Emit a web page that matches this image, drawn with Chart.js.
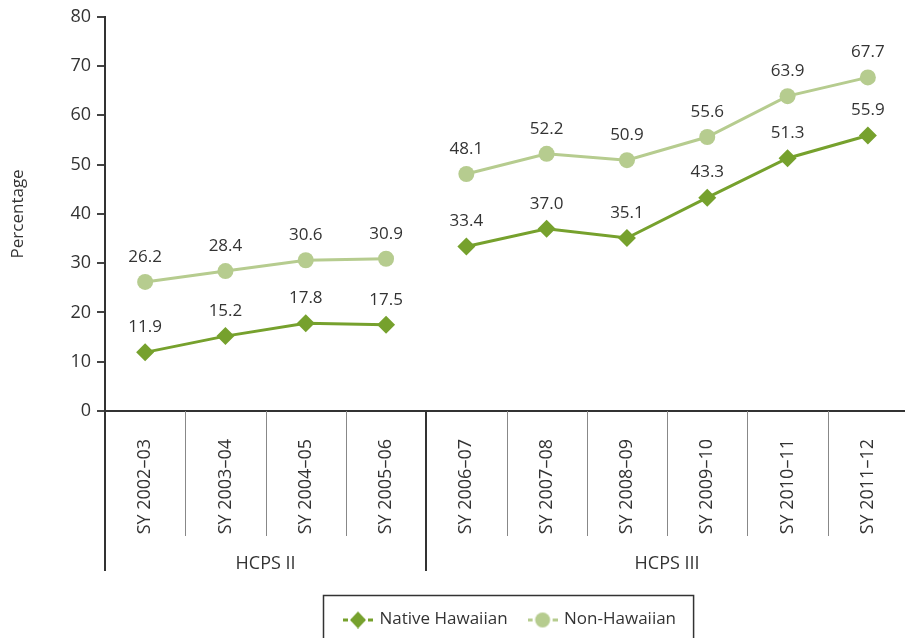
<!DOCTYPE html>
<html>
<head>
<meta charset="utf-8">
<script src="https://cdn.jsdelivr.net/npm/chart.js@4.4.1/dist/chart.umd.min.js"></script>
<style>
  html, body { margin: 0; padding: 0; background: #fff; overflow: hidden; }
  #wrap { width: 917px; height: 638px; }
</style>
</head>
<body>
<div id="wrap"><canvas id="myChart"></canvas></div>
<script>
const schoolYears = ['SY 2002–03', 'SY 2003–04', 'SY 2004–05', 'SY 2005–06', 'SY 2006–07',
  'SY 2007–08', 'SY 2008–09', 'SY 2009–10', 'SY 2010–11', 'SY 2011–12'];
const nativeHawaiian = [11.9, 15.2, 17.8, 17.5, 33.4, 37.0, 35.1, 43.3, 51.3, 55.9];
const nonHawaiian = [26.2, 28.4, 30.6, 30.9, 48.1, 52.2, 50.9, 55.6, 63.9, 67.7];
const groupNames = ['HCPS II', 'HCPS III'];
const groupSizes = [4, 6];

const FONT = '"Open Sans", "Noto Sans", sans-serif';
const TXT = '#333';
const DARK = '#76a12d';
const LIGHT = '#b6cc8f';

// break the line between the two study periods
const gapSegment = (color) => ({
  borderColor: c => c.p0DataIndex === groupSizes[0] - 1 ? 'rgba(0,0,0,0)' : color
});

function legendIcon(color, style) {
  const c = document.createElement('canvas');
  c.width = 30; c.height = 18;
  const g = c.getContext('2d');
  g.fillStyle = color;
  g.fillRect(0, 8, 5, 3);
  g.fillRect(25, 8, 5, 3);
  g.fillRect(8, 8, 14, 3);
  g.beginPath();
  if (style === 'rectRot') {
    g.moveTo(15, 1); g.lineTo(23, 9.5); g.lineTo(15, 18); g.lineTo(7, 9.5);
  } else {
    g.arc(15, 9.5, 7.5, 0, Math.PI * 2);
  }
  g.fill();
  return c;
}

const pointLabels = {
  id: 'pointLabels',
  afterDatasetsDraw(chart) {
    const ctx = chart.ctx;
    ctx.save();
    ctx.font = '17px ' + FONT;
    ctx.fillStyle = TXT;
    ctx.textAlign = 'center';
    ctx.textBaseline = 'middle';
    chart.data.datasets.forEach((ds, i) => {
      chart.getDatasetMeta(i).data.forEach((pt, j) => {
        ctx.fillText(ds.data[j].toFixed(1), pt.x, pt.y - 25);
      });
    });
    ctx.restore();
  }
};

// centre the legend under the plot area rather than the canvas
const legendUnderPlot = {
  id: 'legendUnderPlot',
  afterLayout(chart) {
    const lg = chart.legend;
    lg.left = chart.chartArea.left + 4;
    lg.right = chart.chartArea.right + 4;
  }
};

const categoryFrame = {
  id: 'categoryFrame',
  afterDraw(chart) {
    const ctx = chart.ctx;
    const x = chart.scales.x;
    const top = chart.chartArea.bottom;
    const majors = [0];
    groupSizes.reduce((a, n) => { majors.push(a + n); return a + n; }, 0);
    ctx.save();
    for (let i = 0; i <= schoolYears.length; i++) {
      const px = Math.round(x.getPixelForValue(i - 0.5));
      const major = majors.includes(i);
      ctx.strokeStyle = major ? '#333' : '#888';
      ctx.lineWidth = major ? 2 : 1;
      ctx.beginPath();
      ctx.moveTo(px + (major ? 0 : 0.5), top);
      ctx.lineTo(px + (major ? 0 : 0.5), top + (major ? 160 : 125));
      ctx.stroke();
    }
    ctx.font = '18px ' + FONT;
    ctx.fillStyle = TXT;
    ctx.textAlign = 'center';
    ctx.textBaseline = 'middle';
    let start = 0;
    groupNames.forEach((name, k) => {
      const end = start + groupSizes[k];
      const cx = (x.getPixelForValue(start - 0.5) + x.getPixelForValue(end - 0.5)) / 2;
      ctx.fillText(name, cx, top + 153);
      start = end;
    });
    // legend frame
    const lg = chart.legend;
    const lw = lg.lineWidths ? lg.lineWidths[0] : 340;
    const cx = (lg.left + lg.right) / 2;
    ctx.strokeStyle = '#333';
    ctx.lineWidth = 1.5;
    ctx.strokeRect(Math.round(cx - lw / 2 - 11) + 0.5, 595.5, lw + 17, 60);
    ctx.restore();
  }
};

const ctx = document.getElementById('myChart').getContext('2d');
const myChart = new Chart(ctx, {
  type: 'line',
  data: {
    labels: schoolYears,
    datasets: [{
      label: 'Native Hawaiian',
      data: nativeHawaiian,
      borderColor: DARK,
      backgroundColor: DARK,
      borderWidth: 3,
      pointStyle: 'rectRot',
      pointRadius: 9,
      pointHoverRadius: 9,
      pointBorderWidth: 0,
      segment: gapSegment(DARK),
      icon: legendIcon(DARK, 'rectRot')
    }, {
      label: 'Non-Hawaiian',
      data: nonHawaiian,
      borderColor: LIGHT,
      backgroundColor: LIGHT,
      borderWidth: 3,
      pointStyle: 'circle',
      pointRadius: 8,
      pointHoverRadius: 8,
      pointBorderWidth: 0,
      segment: gapSegment(LIGHT),
      icon: legendIcon(LIGHT, 'circle')
    }]
  },
  options: {
    responsive: true,
    maintainAspectRatio: false,
    animation: false,
    layout: { padding: { top: 1, right: 0, left: 0, bottom: 0 } },
    plugins: {
      tooltip: { enabled: false },
      legend: {
        position: 'bottom',
        labels: {
          usePointStyle: true,
          pointStyleWidth: 26,
          padding: 22,
          color: TXT,
          font: { family: FONT, size: 17 },
          generateLabels(chart) {
            return chart.data.datasets.map((ds, i) => ({
              text: ds.label,
              pointStyle: ds.icon,
              fillStyle: ds.backgroundColor,
              strokeStyle: ds.backgroundColor,
              lineWidth: 0,
              fontColor: TXT,
              datasetIndex: i,
              hidden: false
            }));
          }
        }
      }
    },
    scales: {
      x: {
        offset: true,
        grid: { display: false },
        border: { display: true, color: '#333', width: 2 },
        ticks: {
          autoSkip: false,
          minRotation: 90,
          maxRotation: 90,
          padding: 20,
          color: TXT,
          font: { family: FONT, size: 18 }
        },
        afterFit(s) { s.height = 178; }
      },
      y: {
        min: 0,
        max: 80,
        title: {
          display: true,
          text: 'Percentage',
          color: TXT,
          font: { family: FONT, size: 17 },
          padding: { top: 8, bottom: 30 }
        },
        grid: { drawOnChartArea: false, tickLength: 8, color: '#444', lineWidth: 2 },
        border: { color: '#333', width: 2 },
        ticks: {
          stepSize: 10,
          padding: 6,
          color: TXT,
          font: { family: FONT, size: 18 }
        },
        afterFit(s) { s.width = 105; }
      }
    }
  },
  plugins: [pointLabels, legendUnderPlot, categoryFrame]
});
</script>
</body>
</html>
